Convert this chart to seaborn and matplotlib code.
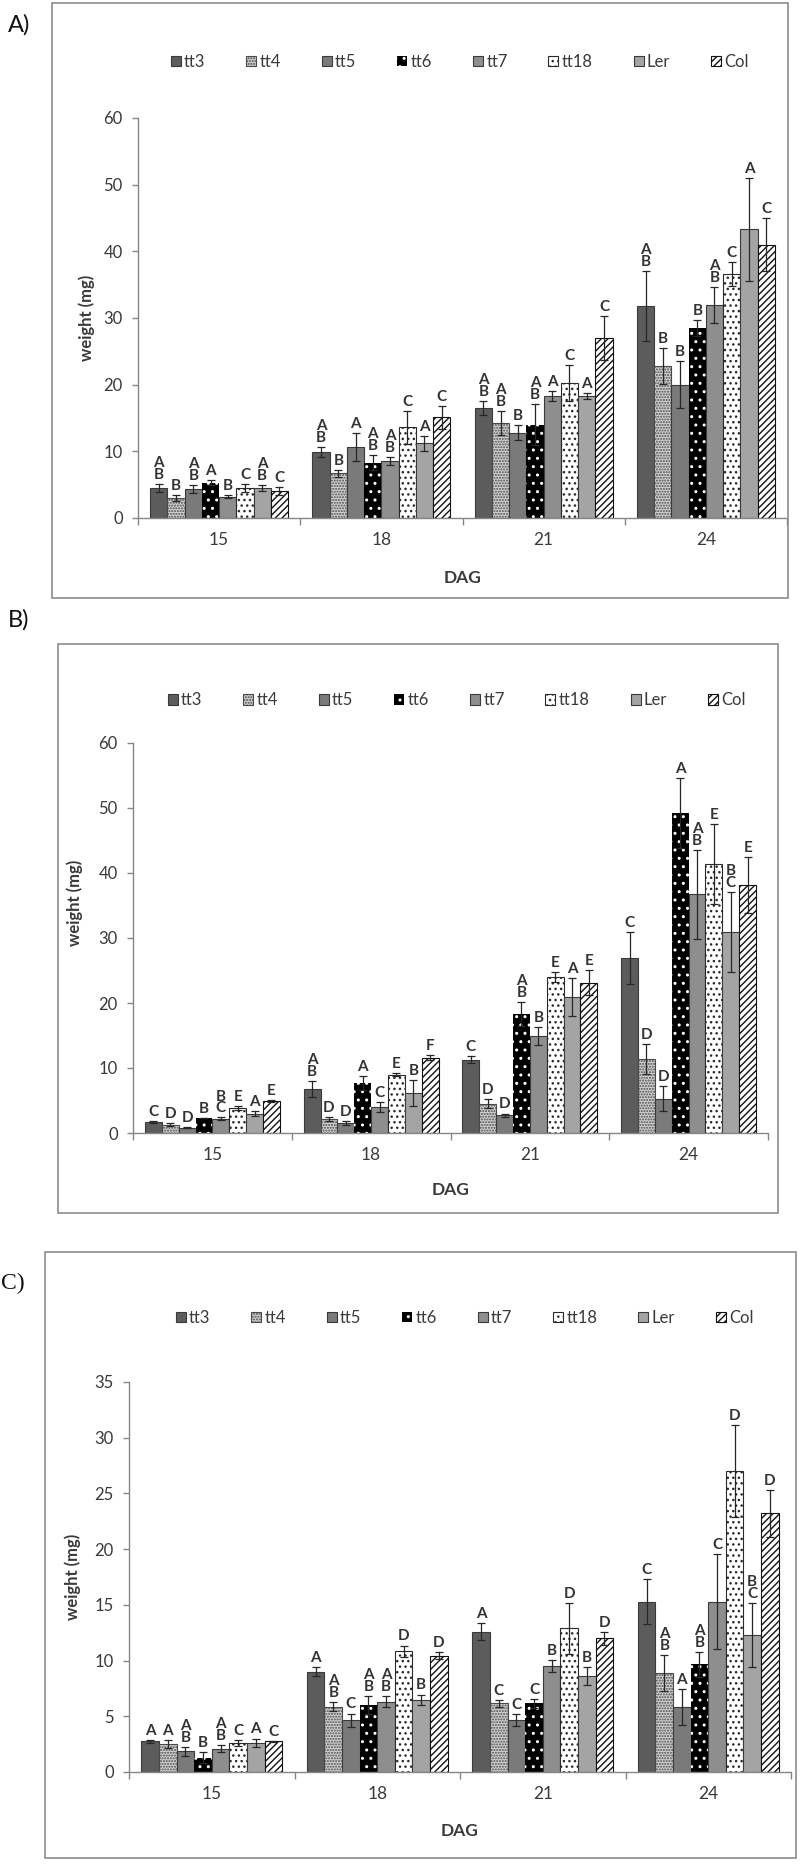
import matplotlib
matplotlib.use("Agg")
import matplotlib.pyplot as plt
from matplotlib.patches import Rectangle
import pandas as pd
import seaborn as sns

GENOTYPES = ["tt3", "tt4", "tt5", "tt6", "tt7", "tt18", "Ler", "Col"]
DAYS = ["15", "18", "21", "24"]

# rows follow GENOTYPES, columns follow DAYS
A_MEAN = [
    [4.5, 9.9, 16.5, 31.8],
    [3.0, 6.7, 14.3, 22.8],
    [4.3, 10.6, 12.8, 20.0],
    [5.3, 8.3, 14.0, 28.5],
    [3.2, 8.5, 18.3, 32.0],
    [4.5, 13.6, 20.2, 36.6],
    [4.5, 11.2, 18.3, 43.3],
    [4.1, 15.1, 27.0, 41.0],
]
A_ERR = [
    [0.6, 0.7, 1.1, 5.3],
    [0.5, 0.5, 1.8, 2.7],
    [0.6, 2.1, 1.1, 3.5],
    [0.4, 1.1, 3.1, 1.2],
    [0.2, 0.6, 0.8, 2.7],
    [0.6, 2.5, 2.7, 1.8],
    [0.5, 1.1, 0.5, 7.7],
    [0.6, 1.7, 3.3, 4.0],
]
A_LETTERS = [
    ["AB", "AB", "AB", "AB"],
    ["B", "B", "AB", "B"],
    ["AB", "A", "B", "B"],
    ["A", "AB", "AB", "B"],
    ["B", "AB", "A", "AB"],
    ["C", "C", "C", "C"],
    ["AB", "A", "A", "A"],
    ["C", "C", "C", "C"],
]

B_MEAN = [
    [1.7, 6.8, 11.3, 26.9],
    [1.3, 2.2, 4.5, 11.4],
    [0.8, 1.6, 2.7, 5.3],
    [2.3, 7.7, 18.3, 49.2],
    [2.2, 4.0, 14.9, 36.7],
    [3.8, 9.0, 24.0, 41.4],
    [3.0, 6.1, 20.9, 30.9],
    [4.9, 11.6, 23.1, 38.1],
]
B_ERR = [
    [0.1, 1.2, 0.6, 4.0],
    [0.2, 0.3, 0.7, 2.3],
    [0.1, 0.3, 0.3, 1.9],
    [0.05, 1.1, 1.8, 5.4],
    [0.2, 0.7, 1.4, 6.8],
    [0.3, 0.2, 0.8, 6.2],
    [0.4, 2.0, 2.9, 6.2],
    [0.2, 0.4, 1.9, 4.3],
]
B_LETTERS = [
    ["C", "AB", "C", "C"],
    ["D", "D", "D", "D"],
    ["D", "D", "D", "D"],
    ["B", "A", "AB", "A"],
    ["BC", "C", "B", "AB"],
    ["E", "E", "E", "E"],
    ["A", "B", "A", "BC"],
    ["E", "F", "E", "E"],
]

C_MEAN = [
    [2.75, 9.0, 12.6, 15.3],
    [2.5, 5.85, 6.15, 8.9],
    [1.85, 4.65, 4.65, 5.85],
    [1.3, 6.0, 6.15, 9.65],
    [2.1, 6.3, 9.5, 15.3],
    [2.6, 10.85, 12.9, 27.0],
    [2.6, 6.5, 8.6, 12.3],
    [2.75, 10.45, 12.0, 23.2],
]
C_ERR = [
    [0.15, 0.4, 0.75, 2.0],
    [0.35, 0.4, 0.3, 1.6],
    [0.4, 0.6, 0.55, 1.6],
    [0.5, 0.8, 0.4, 1.1],
    [0.3, 0.5, 0.55, 4.3],
    [0.3, 0.5, 2.3, 4.1],
    [0.4, 0.45, 0.8, 2.9],
    [0.05, 0.35, 0.6, 2.1],
]
C_LETTERS = [
    ["A", "A", "A", "C"],
    ["A", "AB", "C", "AB"],
    ["AB", "C", "C", "A"],
    ["B", "AB", "C", "AB"],
    ["AB", "AB", "B", "C"],
    ["C", "D", "D", "D"],
    ["A", "B", "B", "BC"],
    ["C", "D", "D", "D"],
]

# Excel-like greyscale fills
STYLE = {
    "tt3": dict(face="#5c5c5c", edge="#3a3a3a", hatch=None, lw=0.8),
    "tt4": dict(face="#d2d2d2", edge="#4a4a4a", hatch="......", lw=0.8, hatchcolor="#8a8a8a"),
    "tt5": dict(face="#7a7a7a", edge="#3a3a3a", hatch=None, lw=0.8),
    "tt6": dict(face="#000000", edge="#ffffff", hatch="..", lw=0.0),
    "tt7": dict(face="#8e8e8e", edge="#3a3a3a", hatch=None, lw=0.8),
    "tt18": dict(face="#ffffff", edge="#2a2a2a", hatch="...", lw=0.8),
    "Ler": dict(face="#a4a4a4", edge="#3a3a3a", hatch=None, lw=0.8),
    "Col": dict(face="#ffffff", edge="#111111", hatch="/////", lw=0.8),
}

AXIS_GREY = "#868686"
TEXT = "#3a3a3a"

sns.set_theme(style="white")
plt.rcParams.update({
    "font.family": ["Lato", "DejaVu Sans"],
    "hatch.linewidth": 1.0,
    "axes.edgecolor": AXIS_GREY,
    "xtick.color": AXIS_GREY,
    "ytick.color": AXIS_GREY,
    "xtick.labelcolor": TEXT,
    "ytick.labelcolor": TEXT,
})


def draw_panel(ax, mean, err, letters, ymax, ystep, leg_anchor, ylab_xy, xlab_y):
    rows = []
    for g, vals in zip(GENOTYPES, mean):
        for d, v in zip(DAYS, vals):
            rows.append({"DAG": d, "genotype": g, "weight": v})
    df = pd.DataFrame(rows)
    sns.barplot(data=df, x="DAG", y="weight", hue="genotype", order=DAYS,
                hue_order=GENOTYPES, errorbar=None, width=0.85, saturation=1,
                palette=[STYLE[g]["face"] for g in GENOTYPES], legend=False, ax=ax)
    bars = list(ax.containers)

    for g, cont, vals, e, lets in zip(GENOTYPES, bars, mean, err, letters):
        st = STYLE[g]
        xs = []
        for p in cont.patches:
            p.set_facecolor(st["face"])
            p.set_hatch(st["hatch"])
            p.set_edgecolor(st["edge"])
            p.set_linewidth(st["lw"])
            if "hatchcolor" in st and hasattr(p, "set_hatchcolor"):
                p.set_hatchcolor(st["hatchcolor"])
            xs.append(p.get_x() + p.get_width() / 2)
        ax.errorbar(xs, vals, yerr=e, fmt="none", ecolor="#262626",
                    elinewidth=0.9, capsize=2.8, capthick=0.9, zorder=3)
        for x, v, ee, lt in zip(xs, vals, e, lets):
            ax.annotate("\n".join(lt), xy=(x, v + ee), xytext=(0, 1.5),
                        textcoords="offset points", ha="center", va="bottom",
                        fontsize=11, fontweight="bold", color="#333333",
                        linespacing=0.8)

    handles = [cont.patches[0] for cont in bars]
    ax.legend(handles, GENOTYPES, loc="center", bbox_to_anchor=leg_anchor, ncol=8,
              frameon=False, fontsize=12, handlelength=0.6, handleheight=0.6,
              handletextpad=0.2, columnspacing=2.45, borderaxespad=0, borderpad=0,
              labelcolor=TEXT)

    ax.set_xlim(-0.5, 3.5)
    ax.set_ylim(0, ymax)
    ax.set_yticks(range(0, ymax + 1, ystep))
    ax.set_xticks([-0.5, 0.5, 1.5, 2.5, 3.5], [""] * 5)
    ax.set_xticks(range(len(DAYS)), DAYS, minor=True)
    ax.tick_params(axis="x", which="major", length=5, width=1, direction="out", bottom=True)
    ax.tick_params(axis="x", which="minor", length=0, pad=10, labelsize=12.5)
    ax.tick_params(axis="y", length=4, width=1, direction="out", left=True, pad=7, labelsize=12)
    ax.spines[["top", "right"]].set_visible(False)
    for s in ("left", "bottom"):
        ax.spines[s].set_color(AXIS_GREY)
        ax.spines[s].set_linewidth(1.0)

    ax.set_xlabel("DAG", fontsize=12.5, fontweight="bold", color=TEXT)
    ax.xaxis.set_label_coords(0.5, xlab_y)
    ax.xaxis.label.set_va("center")
    ax.set_ylabel("weight (mg)", fontsize=12, fontweight="bold", color=TEXT)
    ax.yaxis.set_label_coords(*ylab_xy)
    ax.yaxis.label.set_va("center")


W, H = 800, 1864
fig = plt.figure(figsize=(W / 100, H / 100), dpi=100)


def px_axes(left, top, right, bottom):
    return fig.add_axes([left / W, 1 - bottom / H, (right - left) / W, (bottom - top) / H])


def px_box(left, top, right, bottom):
    fig.add_artist(Rectangle((left / W, 1 - bottom / H), (right - left) / W, (bottom - top) / H,
                             transform=fig.transFigure, fill=False, edgecolor="#8c8c8c", linewidth=1.2))


px_box(52, 3, 788, 598)
px_box(58, 644, 778, 1213)
px_box(45, 1252, 796, 1858)

ax_a = px_axes(138, 118, 787, 518)
draw_panel(ax_a, A_MEAN, A_ERR, A_LETTERS, 60, 10, (0.496, 1.14), (-0.079, 0.5), -0.15)

ax_b = px_axes(133, 743, 768, 1133)
draw_panel(ax_b, B_MEAN, B_ERR, B_LETTERS, 60, 10, (0.51, 1.11), (-0.091, 0.59), -0.146)

ax_c = px_axes(129, 1382, 791, 1772)
draw_panel(ax_c, C_MEAN, C_ERR, C_LETTERS, 35, 5, (0.507, 1.164), (-0.085, 0.5), -0.151)

fig.text(8 / W, 1 - 25 / H, "A)", fontsize=17, va="center", ha="left", color="#111111")
fig.text(8 / W, 1 - 620 / H, "B)", fontsize=17, va="center", ha="left", color="#111111")
fig.text(1 / W, 1 - 1283 / H, "C)", fontsize=17, va="center", ha="left", color="#111111",
         family=["Liberation Serif", "DejaVu Serif"])

fig.savefig("out.png", dpi=100, facecolor="white")
